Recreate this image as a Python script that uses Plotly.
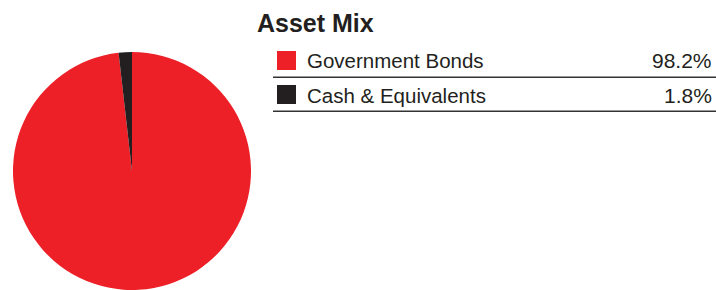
import plotly.graph_objects as go

labels = ["Government Bonds", "Cash & Equivalents"]
values = [98.2, 1.8]
colors = ["#ED1F27", "#231F20"]
title_text = "Asset Mix"

W, H = 716, 290

def px(x):
    return x / W

def py(y):
    return 1 - y / H

fig = go.Figure()
fig.add_trace(go.Pie(
    labels=labels, values=values, sort=False, direction="clockwise", rotation=0,
    marker=dict(colors=colors, line=dict(width=0)),
    textinfo="none", hoverinfo="label+percent", showlegend=False,
    domain=dict(x=[px(12), px(252)], y=[0, py(52)]),
))

annotations = [dict(x=px(255), y=py(23), xref="paper", yref="paper", text="<b>" + title_text + "</b>",
                    showarrow=False, xanchor="left", yanchor="middle",
                    font=dict(family="Liberation Sans", size=25, color="#231F20"))]
shapes = []
row0, step = 60.5, 34
for i, (lab, val, col) in enumerate(zip(labels, values, colors)):
    cy = row0 + i * step
    shapes.append(dict(type="rect", xref="paper", yref="paper",
                       x0=px(277), x1=px(296), y0=py(cy - 9.5), y1=py(cy + 9.5),
                       fillcolor=col, line=dict(width=0)))
    shapes.append(dict(type="line", xref="paper", yref="paper",
                       x0=px(273), x1=1, y0=py(cy + 16.8), y1=py(cy + 16.8),
                       line=dict(color="#333333", width=1.5)))
    annotations.append(dict(x=px(305), y=py(cy + 0.5), xref="paper", yref="paper", text=lab,
                            showarrow=False, xanchor="left", yanchor="middle",
                            font=dict(family="Liberation Sans", size=20.5, color="#231F20")))
    annotations.append(dict(x=px(714), y=py(cy + 0.5), xref="paper", yref="paper", text=f"{val:.1f}%",
                            showarrow=False, xanchor="right", yanchor="middle",
                            font=dict(family="Liberation Sans", size=21, color="#231F20")))

fig.update_layout(width=W, height=H, margin=dict(l=0, r=0, t=0, b=0),
                  paper_bgcolor="white", plot_bgcolor="white",
                  annotations=annotations, shapes=shapes)
fig.write_html("out.html", config={"displayModeBar": False},
               post_script="document.body.style.margin='0';document.body.style.overflow='hidden';")
